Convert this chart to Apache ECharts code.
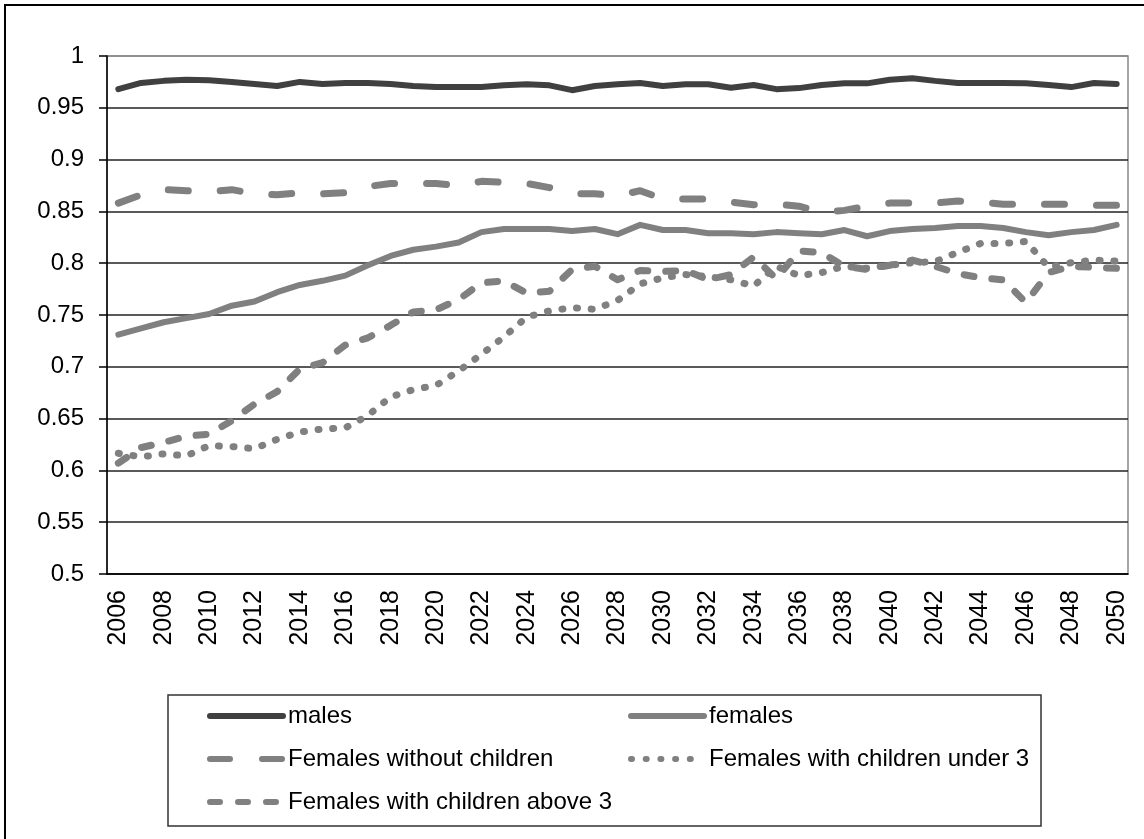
<!DOCTYPE html>
<html>
<head>
<meta charset="utf-8">
<title>Employment rates 2006-2050</title>
<script src="https://cdn.jsdelivr.net/npm/echarts@6.0.0/dist/echarts.min.js"></script>
<style>
  html, body { margin: 0; padding: 0; background: #fff; }
  #chart { width: 1144px; height: 839px; }
</style>
</head>
<body>
<div id="chart"></div>
<script>
// years on the x axis
const years = Array.from({ length: 45 }, (_, i) => String(2006 + i));

const yTicks = [0.5, 0.55, 0.6, 0.65, 0.7, 0.75, 0.8, 0.85, 0.9, 0.95, 1];

const males = [
  0.968, 0.974, 0.976, 0.977, 0.9765, 0.975, 0.973, 0.971, 0.975, 0.973,
  0.974, 0.974, 0.973, 0.971, 0.970, 0.970, 0.970, 0.9717, 0.9727, 0.9717,
  0.967, 0.971, 0.9727, 0.974, 0.971, 0.9727, 0.9727, 0.9694, 0.972, 0.968,
  0.969, 0.972, 0.9736, 0.9736, 0.977, 0.9785, 0.976, 0.974, 0.974, 0.974,
  0.9736, 0.972, 0.970, 0.974, 0.973
];
const females = [
  0.731, 0.737, 0.743, 0.747, 0.751, 0.759, 0.763, 0.772, 0.779, 0.783,
  0.788, 0.798, 0.807, 0.813, 0.816, 0.820, 0.830, 0.833, 0.833, 0.833,
  0.831, 0.833, 0.828, 0.837, 0.832, 0.832, 0.829, 0.829, 0.828, 0.830,
  0.829, 0.828, 0.832, 0.826, 0.831, 0.833, 0.834, 0.836, 0.836, 0.834,
  0.830, 0.827, 0.830, 0.832, 0.837
];
const femNoChildren = [
  0.858, 0.866, 0.871, 0.870, 0.869, 0.871, 0.867, 0.866, 0.868, 0.867,
  0.868, 0.874, 0.877, 0.877, 0.877, 0.875, 0.879, 0.878, 0.877, 0.873,
  0.867, 0.867, 0.865, 0.870, 0.862, 0.862, 0.862, 0.859, 0.8565, 0.857,
  0.855, 0.849, 0.851, 0.855, 0.858, 0.858, 0.858, 0.860, 0.859, 0.857,
  0.857, 0.857, 0.857, 0.856, 0.856
];
const femUnder3 = [
  0.6165, 0.613, 0.616, 0.614, 0.624, 0.623, 0.621, 0.630, 0.637, 0.640,
  0.641, 0.653, 0.671, 0.678, 0.682, 0.696, 0.712, 0.729, 0.748, 0.754,
  0.757, 0.7555, 0.764, 0.780, 0.786, 0.789, 0.787, 0.784, 0.778, 0.797,
  0.788, 0.791, 0.797, 0.795, 0.798, 0.8005, 0.8015, 0.8105, 0.819, 0.819,
  0.821, 0.796, 0.8005, 0.803, 0.802
];
const femAbove3 = [
  0.607, 0.622, 0.627, 0.633, 0.635, 0.648, 0.664, 0.676, 0.698, 0.704,
  0.721, 0.728, 0.740, 0.753, 0.755, 0.765, 0.781, 0.783, 0.771, 0.773,
  0.794, 0.797, 0.784, 0.793, 0.792, 0.793, 0.784, 0.789, 0.806, 0.785,
  0.812, 0.810, 0.797, 0.794, 0.798, 0.803, 0.797, 0.790, 0.786, 0.784,
  0.762, 0.791, 0.797, 0.796, 0.795
];

const font = "'Liberation Sans', Arial, sans-serif";

function lineSeries(name, data, color, width, dash) {
  return {
    name: name,
    type: "line",
    data: data,
    symbol: "none",
    smooth: false,
    lineStyle: { color: color, width: width, type: dash, cap: "round", join: "round" },
    itemStyle: { color: color },
    emphasis: { disabled: true }
  };
}

function legendCol(names, left) {
  return {
    data: names,
    orient: "vertical",
    left: left,
    top: 704,
    padding: 0,
    itemWidth: 73,
    itemHeight: 24,
    itemGap: 19,
    selectedMode: false,
    itemStyle: { opacity: 0 },
    lineStyle: { width: 6, cap: "round" },
    textStyle: { color: "#000", fontSize: 24, fontFamily: font }
  };
}

const chart = echarts.init(document.getElementById("chart"));

chart.setOption({
  backgroundColor: "#fff",
  animation: false,
  grid: { left: 107, right: 16, top: 56, bottom: 265, show: true, borderColor: "#888", borderWidth: 1.5 },
  xAxis: {
    type: "category",
    data: years,
    boundaryGap: true,
    axisLine: { lineStyle: { color: "#000", width: 1.5 } },
    axisTick: { interval: 0, length: 8, lineStyle: { color: "#000", width: 1.5 } },
    axisLabel: { interval: 1, rotate: 90, margin: 16, color: "#000", fontSize: 25, fontFamily: font },
    splitLine: { show: false }
  },
  yAxis: {
    type: "value",
    min: 0.5,
    max: 1,
    interval: 0.05,
    axisLine: { show: true, lineStyle: { color: "#000", width: 1.5 } },
    axisTick: { show: true, length: 8, lineStyle: { color: "#000", width: 1.5 } },
    axisLabel: {
      margin: 23, color: "#000", fontSize: 24, fontFamily: font,
      formatter: v => String(+v.toFixed(2))
    },
    splitLine: {
      lineStyle: {
        width: 1.5,
        color: yTicks.map((t, i) => (i === yTicks.length - 1 ? "#888" : "#222"))
      }
    }
  },
  legend: [
    legendCol(["males", "Females without children", "Females with children above 3"], 207),
    legendCol(["females", "Females with children under 3"], 628)
  ],
  graphic: [
    {
      type: "rect",
      shape: { x: 168, y: 695, width: 873, height: 131 },
      style: { fill: "none", stroke: "#333", lineWidth: 1.5 },
      z: -1
    },
    {
      type: "rect",
      shape: { x: 5, y: 5, width: 1160, height: 860 },
      style: { fill: "none", stroke: "#000", lineWidth: 2 },
      z: -1
    }
  ],
  series: [
    lineSeries("males", males, "#404040", 6, "solid"),
    lineSeries("females", females, "#808080", 6, "solid"),
    lineSeries("Females without children", femNoChildren, "#808080", 7, [20, 32]),
    lineSeries("Females with children under 3", femUnder3, "#808080", 7, [1, 13.7]),
    lineSeries("Females with children above 3", femAbove3, "#808080", 7, [10, 18])
  ]
});
</script>
</body>
</html>
